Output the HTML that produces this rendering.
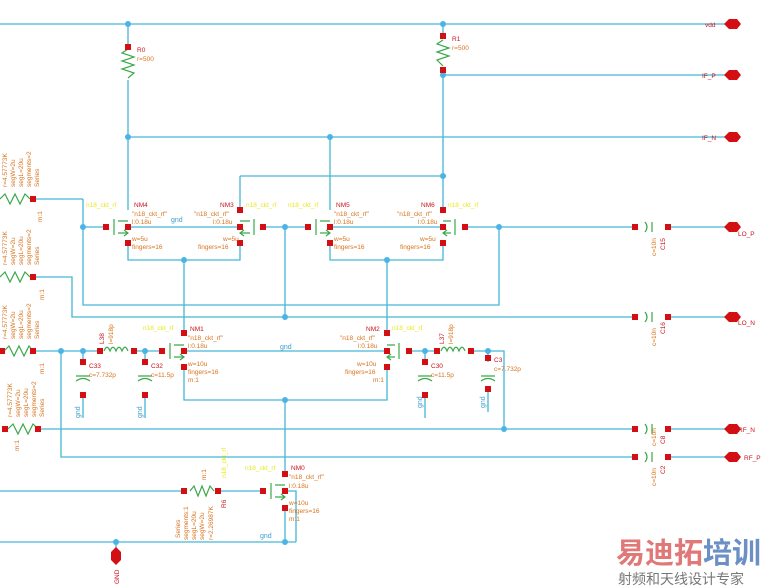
<!DOCTYPE html>
<html><head><meta charset="utf-8"><style>
html,body{margin:0;padding:0;background:#fff;width:771px;height:588px;overflow:hidden}
svg{display:block;font-family:"Liberation Sans",sans-serif}
.w{stroke:#45b6d6;stroke-width:1.3;fill:none}
.g{stroke:#3aaa4a;stroke-width:1.2;fill:none}
.o{fill:#d8731c;font-size:6.5px}
.r{fill:#c8141c;font-size:6.5px}
.y{fill:#e8e820;font-size:6.5px}
.b{fill:#3f9fd0;font-size:7px}
</style></head><body>
<svg width="771" height="588" viewBox="0 0 771 588">
<g class="w">
<path d="M0 24H730M128 24V47M128 80V210M443 24V36M443 70V210M443 75H730M128 137H730M330 137V210M240 176H443M240 176V210"/>
<path d="M83 199H33M83 199V305H499V227M106 227H83M128 227H240M263 227H308M330 227H443M465 227H635M668 227H730"/>
<path d="M128 243V260H240V243M330 243V260H443V243M184 260V333M387 260V333M285 227V317"/>
<path d="M33 277H72V317H635M668 317H730"/>
<path d="M33 351H100M134 351H162M184 351H387M409 351H437M471 351H504V429M83 351V362M83 395V418M145 351V362M145 395V418M425 351V362M425 395V418M488 351V362M488 388V412"/>
<path d="M184 367V400H387V367M285 400V474M61 351V457H635M668 457H730M38 429H635M668 429H730"/>
<path d="M0 491H184M218 491H263M285 491H296V542M285 508V542M0 542H296M116 542V556"/>
</g>
<g fill="#4cb4e4">
<circle cx="128" cy="24" r="3"/><circle cx="443" cy="24" r="3"/><circle cx="443" cy="75" r="3"/><circle cx="128" cy="137" r="3"/><circle cx="330" cy="137" r="3"/><circle cx="443" cy="176" r="3"/><circle cx="83" cy="227" r="3"/><circle cx="285" cy="227" r="3"/><circle cx="499" cy="227" r="3"/><circle cx="184" cy="260" r="3"/><circle cx="387" cy="260" r="3"/><circle cx="285" cy="317" r="3"/><circle cx="61" cy="351" r="3"/><circle cx="83" cy="351" r="3"/><circle cx="145" cy="351" r="3"/><circle cx="425" cy="351" r="3"/><circle cx="488" cy="351" r="3"/><circle cx="285" cy="400" r="3"/><circle cx="504" cy="429" r="3"/><circle cx="285" cy="542" r="3"/><circle cx="116" cy="542" r="3"/>
</g>
<g class="g">
<path d="M128 49L122 53L134 57L122 61L134 65L122 69L134 73L128 78"/>
<path d="M443 40L437 44L449 48L437 52L449 56L437 60L443 66"/>
<path d="M0 199L5 194L10 204L15 194L20 204L25 194L30 199M0 277L5 272L10 282L15 272L20 282L25 272L30 277M4 351L9 346L14 356L19 346L24 356L29 346L33 351M8 429L13 424L18 434L23 424L28 434L33 424L38 429M190 491L194 486L198 496L202 486L206 496L210 486L214 491"/>
<path d="M104 351c2-5 4-5 6 0c2-5 4-5 6 0c2-5 4-5 6 0c2-5 4-5 6 0M441 351c2-5 4-5 6 0c2-5 4-5 6 0c2-5 4-5 6 0c2-5 4-5 6 0"/>
<path d="M76 376H90M76 381Q83 376 90 381M138 376H152M138 381Q145 376 152 381M418 376H432M418 381Q425 376 432 381M481 376H495M481 381Q488 376 495 381"/>
<path d="M645 222Q649 227 645 232M652 222V232M645 312Q649 317 645 322M652 312V322M645 424Q649 429 645 434M652 424V434M645 452Q649 457 645 462M652 452V462"/>
<path d="M114 219V235M118 221H128M118 233H128M124 230L128 233L124 236M254 219V235M250 221H240M250 233H240M244 230L240 233L244 236M316 219V235M320 221H330M320 233H330M326 230L330 233L326 236M455 219V235M451 221H443M451 233H443M447 230L443 233L447 236"/>
<path d="M170 343V359M174 345H184M174 357H184M180 354L184 357L180 360M399 343V359M395 345H387M395 357H387M391 354L387 357L391 360M271 483V499M275 485H285M275 497H285M281 494L285 497L281 500"/>
</g>
<g fill="#d40f14">
<rect x="125" y="44" width="6" height="6"/><rect x="440" y="33" width="6" height="6"/><rect x="440" y="67" width="6" height="6"/>
<rect x="30" y="196" width="6" height="6"/><rect x="103" y="224" width="6" height="6"/><rect x="125" y="224" width="6" height="6"/><rect x="125" y="240" width="6" height="6"/><rect x="237" y="207" width="6" height="6"/><rect x="237" y="224" width="6" height="6"/><rect x="237" y="240" width="6" height="6"/><rect x="260" y="224" width="6" height="6"/><rect x="305" y="224" width="6" height="6"/><rect x="327" y="224" width="6" height="6"/><rect x="327" y="240" width="6" height="6"/><rect x="440" y="207" width="6" height="6"/><rect x="440" y="224" width="6" height="6"/><rect x="440" y="240" width="6" height="6"/><rect x="462" y="224" width="6" height="6"/><rect x="632" y="224" width="6" height="6"/><rect x="665" y="224" width="6" height="6"/>
<rect x="30" y="274" width="6" height="6"/><rect x="632" y="314" width="6" height="6"/><rect x="665" y="314" width="6" height="6"/>
<rect x="0" y="348" width="5" height="6"/><rect x="30" y="348" width="6" height="6"/><rect x="97" y="348" width="6" height="6"/><rect x="131" y="348" width="6" height="6"/><rect x="159" y="348" width="6" height="6"/><rect x="181" y="330" width="6" height="6"/><rect x="181" y="348" width="6" height="6"/><rect x="181" y="364" width="6" height="6"/><rect x="384" y="330" width="6" height="6"/><rect x="384" y="348" width="6" height="6"/><rect x="384" y="364" width="6" height="6"/><rect x="406" y="348" width="6" height="6"/><rect x="434" y="348" width="6" height="6"/><rect x="468" y="348" width="6" height="6"/>
<rect x="80" y="359" width="6" height="6"/><rect x="80" y="392" width="6" height="6"/><rect x="142" y="359" width="6" height="6"/><rect x="142" y="392" width="6" height="6"/><rect x="422" y="359" width="6" height="6"/><rect x="422" y="392" width="6" height="6"/><rect x="485" y="355" width="6" height="6"/><rect x="485" y="386" width="6" height="6"/>
<rect x="2" y="426" width="6" height="6"/><rect x="35" y="426" width="6" height="6"/><rect x="632" y="426" width="6" height="6"/><rect x="665" y="426" width="6" height="6"/><rect x="632" y="454" width="6" height="6"/><rect x="665" y="454" width="6" height="6"/>
<rect x="181" y="488" width="6" height="6"/><rect x="215" y="488" width="6" height="6"/><rect x="260" y="488" width="6" height="6"/><rect x="282" y="471" width="6" height="6"/><rect x="282" y="488" width="6" height="6"/><rect x="282" y="505" width="6" height="6"/>
<polygon points="724,24 729,19 737,19 741,24 737,29 729,29"/><polygon points="724,75 729,70 737,70 741,75 737,80 729,80"/><polygon points="724,137 729,132 737,132 741,137 737,142 729,142"/><polygon points="724,227 729,222 737,222 741,227 737,232 729,232"/><polygon points="724,317 729,312 737,312 741,317 737,322 729,322"/><polygon points="724,429 729,424 737,424 741,429 737,434 729,434"/><polygon points="724,457 729,452 737,452 741,457 737,462 729,462"/><polygon points="116,547 121,552 121,560 116,565 111,560 111,552"/>
</g>
<g>
<text x="705" y="27" class="r">vdd</text><text x="702" y="78" class="r">IF_P</text><text x="702" y="140" class="r">IF_N</text><text x="738" y="236" class="r">LO_P</text><text x="738" y="325" class="r">LO_N</text><text x="738" y="432" class="r">RF_N</text><text x="744" y="460" class="r">RF_P</text>
<text x="137" y="52" class="r">R0</text><text x="137" y="61" class="o">r=500</text><text x="452" y="41" class="r">R1</text><text x="452" y="50" class="o">r=500</text>
<text x="134" y="207" class="r">NM4</text><text x="220" y="207" class="r">NM3</text><text x="336" y="207" class="r">NM5</text><text x="421" y="207" class="r">NM6</text>
<text x="86" y="207" class="y">n18_ckt_rf</text><text x="246" y="207" class="y">n18_ckt_rf</text><text x="288" y="207" class="y">n18_ckt_rf</text><text x="448" y="207" class="y">n18_ckt_rf</text>
<text x="132" y="216" class="o">"n18_ckt_rf"</text><text x="194" y="216" class="o">"n18_ckt_rf"</text><text x="334" y="216" class="o">"n18_ckt_rf"</text><text x="397" y="216" class="o">"n18_ckt_rf"</text>
<text x="132" y="224" class="o">l:0.18u</text><text x="213" y="224" class="o">l:0.18u</text><text x="334" y="224" class="o">l:0.18u</text><text x="418" y="224" class="o">l:0.18u</text>
<text x="132" y="241" class="o">w=5u</text><text x="223" y="241" class="o">w=5u</text><text x="334" y="241" class="o">w=5u</text><text x="420" y="241" class="o">w=5u</text>
<text x="132" y="249" class="o">fingers=16</text><text x="198" y="249" class="o">fingers=16</text><text x="334" y="249" class="o">fingers=16</text><text x="400" y="249" class="o">fingers=16</text>
<text x="171" y="222" class="b">gnd</text><text x="280" y="349" class="b">gnd</text><text x="260" y="538" class="b">gnd</text>
<text x="190" y="331" class="r">NM1</text><text x="366" y="331" class="r">NM2</text><text x="291" y="470" class="r">NM0</text>
<text x="143" y="330" class="y">n18_ckt_rf</text><text x="392" y="330" class="y">n18_ckt_rf</text><text x="245" y="470" class="y">n18_ckt_rf</text>
<text x="188" y="340" class="o">"n18_ckt_rf"</text><text x="340" y="340" class="o">"n18_ckt_rf"</text><text x="289" y="479" class="o">"n18_ckt_rf"</text>
<text x="188" y="348" class="o">l:0.18u</text><text x="358" y="348" class="o">l:0.18u</text><text x="289" y="488" class="o">l:0.18u</text>
<text x="188" y="366" class="o">w=10u</text><text x="357" y="366" class="o">w=10u</text><text x="289" y="505" class="o">w=10u</text>
<text x="188" y="374" class="o">fingers=16</text><text x="345" y="374" class="o">fingers=16</text><text x="289" y="513" class="o">fingers=16</text>
<text x="188" y="382" class="o">m:1</text><text x="373" y="382" class="o">m:1</text><text x="289" y="521" class="o">m:1</text>
<text x="89" y="368" class="r">C33</text><text x="89" y="377" class="o">c=7.732p</text><text x="151" y="368" class="r">C32</text><text x="151" y="377" class="o">c=11.5p</text>
<text x="431" y="368" class="r">C30</text><text x="431" y="377" class="o">c=11.5p</text><text x="494" y="362" class="r">C3</text><text x="494" y="371" class="o">c=7.732p</text>
<text transform="translate(104,344) rotate(-90)" class="r">L38</text><text transform="translate(113,344) rotate(-90)" class="o">l=918p</text>
<text transform="translate(444,344) rotate(-90)" class="r">L37</text><text transform="translate(453,344) rotate(-90)" class="o">l=918p</text>
<text transform="translate(80,418) rotate(-90)" class="b">gnd</text><text transform="translate(142,418) rotate(-90)" class="b">gnd</text><text transform="translate(422,408) rotate(-90)" class="b">gnd</text><text transform="translate(485,408) rotate(-90)" class="b">gnd</text>
<text transform="translate(656,256) rotate(-90)" class="o">c=10n</text><text transform="translate(665,250) rotate(-90)" class="r">C15</text>
<text transform="translate(656,346) rotate(-90)" class="o">c=10n</text><text transform="translate(665,334) rotate(-90)" class="r">C16</text>
<text transform="translate(656,446) rotate(-90)" class="o">c=10n</text><text transform="translate(665,444) rotate(-90)" class="r">C8</text>
<text transform="translate(656,486) rotate(-90)" class="o">c=10n</text><text transform="translate(665,474) rotate(-90)" class="r">C2</text>
<text transform="translate(119,584) rotate(-90)" class="r">GND</text>
<text transform="translate(226,508) rotate(-90)" class="r">R6</text>
<text transform="translate(180,538) rotate(-90)" class="o">Series</text><text transform="translate(188,540) rotate(-90)" class="o">segments:1</text><text transform="translate(196,540) rotate(-90)" class="o">segL=20u</text><text transform="translate(204,540) rotate(-90)" class="o">segW=2u</text><text transform="translate(213,540) rotate(-90)" class="o">r=2.26987K</text>
<text transform="translate(206,480) rotate(-90)" class="o">m:1</text><text transform="translate(226,478) rotate(-90)" class="y">n18_ckt_rf</text>
<text transform="translate(7,187) rotate(-90)" class="o">r=4.57773K</text><text transform="translate(15,187) rotate(-90)" class="o">segW=2u</text><text transform="translate(23,187) rotate(-90)" class="o">segL=20u</text><text transform="translate(31,187) rotate(-90)" class="o">segments=2</text><text transform="translate(39,187) rotate(-90)" class="o">Series</text>
<text transform="translate(7,265) rotate(-90)" class="o">r=4.57773K</text><text transform="translate(15,265) rotate(-90)" class="o">segW=2u</text><text transform="translate(23,265) rotate(-90)" class="o">segL=20u</text><text transform="translate(31,265) rotate(-90)" class="o">segments=2</text><text transform="translate(39,265) rotate(-90)" class="o">Series</text>
<text transform="translate(7,339) rotate(-90)" class="o">r=4.57773K</text><text transform="translate(15,339) rotate(-90)" class="o">segW=2u</text><text transform="translate(23,339) rotate(-90)" class="o">segL=20u</text><text transform="translate(31,339) rotate(-90)" class="o">segments=2</text><text transform="translate(39,339) rotate(-90)" class="o">Series</text>
<text transform="translate(12,417) rotate(-90)" class="o">r=4.57773K</text><text transform="translate(20,417) rotate(-90)" class="o">segW=2u</text><text transform="translate(28,417) rotate(-90)" class="o">segL=20u</text><text transform="translate(36,417) rotate(-90)" class="o">segments=2</text><text transform="translate(44,417) rotate(-90)" class="o">Series</text>
<text transform="translate(42,222) rotate(-90)" class="o">m:1</text><text transform="translate(44,300) rotate(-90)" class="o">m:1</text><text transform="translate(44,374) rotate(-90)" class="o">m:1</text><text transform="translate(19,451) rotate(-90)" class="o">m:1</text>
</g>
<text x="616" y="563" font-family="'Noto Sans CJK SC',sans-serif" font-size="29" font-weight="bold" fill="#e07878">易迪拓<tspan fill="#6c8fc4">培训</tspan></text>
<text x="618" y="584" font-family="'Noto Sans CJK SC',sans-serif" font-size="14" fill="#777">射频和天线设计专家</text>
</svg>
</body></html>
